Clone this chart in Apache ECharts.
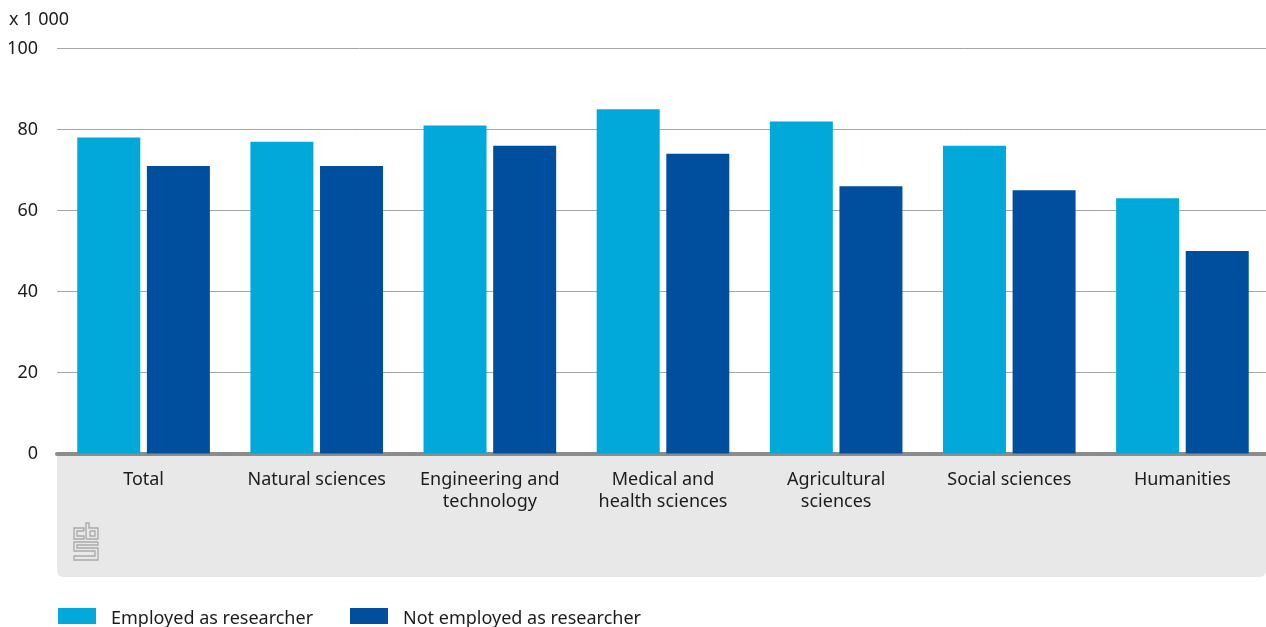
<!DOCTYPE html>
<html>
<head>
<meta charset="utf-8">
<style>html,body{margin:0;padding:0;background:#fff}#c{width:1266px;height:627px}</style>
<script src="https://cdn.jsdelivr.net/npm/echarts@6/dist/echarts.min.js"></script>
</head>
<body>
<div id="c"></div>
<script>
const categories = ['Total','Natural sciences','Engineering and\ntechnology','Medical and\nhealth sciences','Agricultural\nsciences','Social sciences','Humanities'];
const employed = [78,77,81,85,82,76,63];
const notEmployed = [71,71,76,74,66,65,50];
const nameA = 'Employed as researcher';
const nameB = 'Not employed as researcher';
const FONT = '"Noto Sans", sans-serif';
const INK = '#1c1c1c';
const logoStroke = {stroke:'#a9a9a9', lineWidth:1.3, fill:null};
const logo = [
 [[84,531],[77,531],[77,536],[84,536],[84,539],[74,539],[74,528],[84,528],[84,531]],
 [[86,539],[86,523],[89,523],[89,528],[98,528],[98,539],[86,539]],
 [[90,531],[95,531],[95,536],[90,536],[90,531]],
 [[98,542],[74,542],[74,551],[95,551],[95,556],[74,556],[74,560],[98,560],[98,548],[77,548],[77,545],[98,545],[98,542]]
];
const chart = echarts.init(document.getElementById('c'), null, {renderer:'canvas'});
const legendBase = {icon:'rect', itemWidth:38, itemHeight:16, selectedMode:false, itemGap:0, padding:0,
  formatter: n => '{t|' + n + '}',
  textStyle:{fontFamily:FONT, fontSize:18, color:INK, padding:[0,0,0,10],
    rich:{t:{fontFamily:FONT, fontSize:18, color:INK, padding:[5,0,0,0]}}}};
chart.setOption({
  animation:false,
  backgroundColor:'#fff',
  grid:{left:57, width:1212, top:48.5, height:405, containLabel:false, outerBoundsMode:'none'},
  graphic:[
    {type:'rect', z:-1, silent:true, shape:{x:57,y:454,width:1209,height:123,r:[0,0,6,6]}, style:{fill:'#e8e8e8'}},
    {type:'text', left:9, top:11, style:{text:'x 1 000', font:'18px '+FONT, fill:INK}},
    ...logo.map(p=>({type:'polyline', z:1, silent:true, shape:{points:p}, style:logoStroke}))
  ],
  legend:[
    Object.assign({}, legendBase, {left:58, top:608, data:[nameA]}),
    Object.assign({}, legendBase, {left:350, top:608, data:[nameB]})
  ],
  xAxis:{type:'category', data:categories,
    axisTick:{show:false},
    axisLine:{show:true, onZero:true, lineStyle:{color:'#8c8c8c', width:4}},
    axisLabel:{fontFamily:FONT, fontSize:18, color:INK, margin:15, lineHeight:22, interval:0}},
  yAxis:{type:'value', min:0, max:100, interval:20,
    axisLine:{show:false}, axisTick:{show:false},
    splitLine:{lineStyle:{color:'#a6a6a6', width:1}},
    axisLabel:{fontFamily:FONT, fontSize:18, color:INK, margin:19, padding:[2,0,0,0]}},
  series:[
    {name:nameA, type:'bar', data:employed, barWidth:63, barGap:'10.5%', itemStyle:{color:'#00a9da'}},
    {name:nameB, type:'bar', data:notEmployed, barWidth:63, itemStyle:{color:'#004f9f'}}
  ]
});
</script>
</body>
</html>
